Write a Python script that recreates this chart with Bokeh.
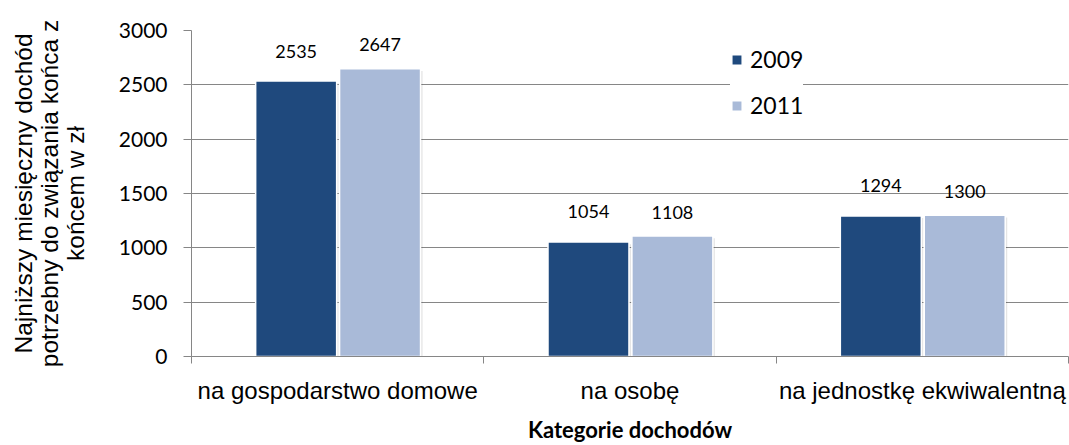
from bokeh.plotting import figure
from bokeh.models import (FixedTicker, Legend, LegendItem, ColumnDataSource, Range1d)
from bokeh.core.properties import value
from bokeh.embed import file_html
from bokeh.resources import INLINE

categories = ["na gospodarstwo domowe", "na osobę", "na jednostkę ekwiwalentną"]
series_names = ["2009", "2011"]
values_2009 = [2535, 1054, 1294]
values_2011 = [2647, 1108, 1300]
y_ticks = [0, 500, 1000, 1500, 2000, 2500, 3000]
y_title = "Najniższy miesięczny dochód\npotrzebny do związania końca z\nkońcem w zł"
x_title = "Kategorie dochodów"

colors = ["#1F497D", "#A9BAD8"]
dodge = [-0.142, 0.145]
bar_w = 0.277
label_off = [-30, -24]

p = figure(width=1069, height=445, output_backend="svg", toolbar_location=None,
           x_range=Range1d(0, len(categories)), y_range=Range1d(0, 3000),
           min_border_left=191, min_border_right=1, min_border_top=30, min_border_bottom=89)
p.outline_line_color = None
p.background_fill_color = "white"
p.border_fill_color = "white"

centers = [i + 0.5 for i in range(len(categories))]
renderers = []
for k, vals in enumerate([values_2009, values_2011]):
    xs = [c + dodge[k] for c in centers]
    src = ColumnDataSource(dict(x=xs, top=vals, lbl=[str(v) for v in vals]))
    shadow = ColumnDataSource(dict(x=[x + 0.007 for x in xs], top=[v - 20 for v in vals]))
    p.vbar(x="x", top="top", width=bar_w, bottom=0, source=shadow,
           fill_color="#000000", fill_alpha=0.10, line_color=None)
    r = p.vbar(x="x", top="top", width=bar_w, bottom=0, fill_color=colors[k],
               line_color="white", line_width=1.5, source=src)
    renderers.append(r)
    p.text(x="x", y="top", text="lbl", source=src, text_align="center", text_baseline="middle",
           y_offset=label_off[k], text_font=value("Lato"), text_font_size="18px", text_color="#000000")

# x axis
p.xaxis.ticker = FixedTicker(ticks=centers, minor_ticks=list(range(len(categories) + 1)))
p.xaxis.major_label_overrides = {c: categories[i] for i, c in enumerate(centers)}
p.xaxis.major_tick_line_color = None
p.xaxis.major_tick_out = 0
p.xaxis.minor_tick_out = 7
p.xaxis.minor_tick_in = 0
p.xaxis.minor_tick_line_color = "#868686"
p.xaxis.axis_line_color = "#868686"
p.xaxis.major_label_text_font = "Liberation Sans"
p.xaxis.major_label_text_font_size = "24px"
p.xaxis.major_label_text_color = "#000000"
p.xaxis.major_label_standoff = 13
p.xaxis.axis_label = x_title
p.xaxis.axis_label_text_font = "Lato"
p.xaxis.axis_label_text_font_style = "bold"
p.xaxis.axis_label_text_font_size = "22px"
p.xaxis.axis_label_text_color = "#000000"
p.xaxis.axis_label_standoff = 9

# y axis
p.yaxis.ticker = FixedTicker(ticks=y_ticks)
p.yaxis.minor_tick_line_color = None
p.yaxis.major_tick_out = 8
p.yaxis.major_tick_in = 0
p.yaxis.major_tick_line_color = "#868686"
p.yaxis.axis_line_color = "#868686"
p.yaxis.major_label_text_font = "Lato"
p.yaxis.major_label_text_font_size = "21px"
p.yaxis.major_label_text_color = "#000000"
p.yaxis.major_label_standoff = 16
p.yaxis.axis_label = y_title
p.yaxis.axis_label_text_font = "Liberation Sans"
p.yaxis.axis_label_text_font_style = "normal"
p.yaxis.axis_label_text_font_size = "24.5px"
p.yaxis.axis_label_text_line_height = 0.95
p.yaxis.axis_label_text_color = "#000000"
p.yaxis.axis_label_standoff = 27

p.xgrid.grid_line_color = None
p.ygrid.grid_line_color = "#868686"
p.ygrid.grid_line_width = 1

legend = Legend(items=[LegendItem(label=series_names[i], renderers=[renderers[i]]) for i in range(2)],
                location=(539, 237), orientation="vertical",
                background_fill_color="white", background_fill_alpha=1.0,
                border_line_color=None, padding=12, margin=0, spacing=18,
                glyph_width=13, glyph_height=13, label_standoff=7, label_height=23,
                label_text_font="Lato", label_text_font_size="23px", label_text_color="#000000")
p.add_layout(legend, "center")

open("out.html", "w").write(file_html(p, INLINE))
